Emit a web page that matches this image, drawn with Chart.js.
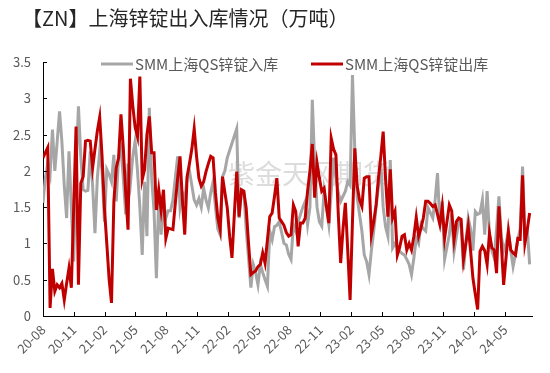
<!DOCTYPE html>
<html>
<head>
<meta charset="utf-8">
<script src="https://cdn.jsdelivr.net/npm/chart.js@4.4.1/dist/chart.umd.min.js"></script>
<style>
  html, body { margin: 0; padding: 0; background: #fff; }
  #wrap { width: 550px; height: 373px; }
</style>
</head>
<body>
<div id="wrap"><canvas id="chart" width="550" height="373"></canvas></div>
<script>
// chart texts
const titleText = "【ZN】上海锌锭出入库情况（万吨）";
const seriesNames = ["SMM上海QS锌锭入库", "SMM上海QS锌锭出库"];
const watermarkText = "紫金天风期货";

// quarter tick labels on the x axis (weekly data)
const tickLabels = ["20-08", "20-11", "21-02", "21-05", "21-08", "21-11", "22-02", "22-05",
  "22-08", "22-11", "23-02", "23-05", "23-08", "23-11", "24-02", "24-05"];
const weeksPerQuarter = 13.04;

// 入库 (grey), weekly, 万吨
const inflow = [
  1.56, 1.9, 2.1, 1.95, 2.57, 2.0, 2.4, 2.82, 2.4, 1.8,
  1.35, 2.27, 1.5, 0.75, 2.0, 2.89, 2.2, 1.74, 1.72, 1.73,
  2.27, 1.8, 1.14, 1.9, 2.27, 2.0, 1.3, 2.02, 1.95, 1.85,
  2.22, 1.58, 2.2, 2.3, 1.9, 1.4, 2.1, 1.83, 2.2, 2.41,
  2.0, 1.5, 0.84, 1.85, 1.1, 2.87, 1.9, 1.45, 0.52, 1.63,
  1.12, 1.6, 1.35, 1.45, 1.45, 1.6, 1.9, 2.2, 1.5, 1.7,
  1.6, 1.9, 2.0, 1.8, 1.6, 1.53, 1.62, 1.5, 1.76, 1.6,
  1.49, 1.7, 1.85, 1.5, 1.2, 1.12, 1.92, 2.0, 2.18, 2.28,
  2.38, 2.48, 2.58, 1.35, 1.74, 1.72, 1.2, 0.8, 0.39, 0.71,
  0.6, 0.43, 0.71, 0.6, 0.5, 0.41, 1.17, 1.05, 1.23, 1.25,
  1.3, 1.15, 1.0, 0.98, 0.85, 0.78, 1.26, 1.17, 1.3, 1.4,
  1.5, 1.58, 1.26, 1.5, 2.98, 2.1, 1.5, 1.3, 1.24, 1.72,
  1.5, 1.26, 1.7, 2.18, 1.9, 1.7, 1.58, 1.65, 1.72, 1.85,
  1.8, 3.32, 2.27, 1.63, 1.4, 1.17, 0.84, 0.75, 0.57, 0.9,
  1.17, 1.5, 1.79, 2.1, 1.5, 1.23, 1.1, 2.15, 0.94, 1.0,
  0.95, 0.89, 0.86, 0.84, 0.78, 0.71, 0.57, 0.8, 1.07, 1.0,
  1.26, 1.2, 1.17, 1.49, 1.42, 1.35, 1.6, 1.97, 1.26, 1.58,
  0.78, 0.95, 1.12, 1.4, 0.89, 1.1, 1.3, 1.26, 0.64, 1.0,
  1.35, 1.2, 0.9, 1.44, 1.4, 1.42, 1.6, 1.12, 1.72, 1.12,
  0.9, 0.8, 1.2, 1.65, 1.1, 0.9, 1.0, 1.17, 0.9, 0.68,
  0.85, 1.05, 1.2, 2.06, 1.1, 1.2, 0.71
];

// 出库 (red), weekly, 万吨
const outflow = [
  2.18, 2.25, 2.32, 0.11, 0.65, 0.34, 0.43, 0.39, 0.45, 0.22,
  0.45, 0.66, 0.39, 1.5, 2.61, 0.43, 1.83, 1.92, 2.41, 2.42,
  2.41, 2.04, 2.3, 2.55, 2.74, 2.2, 1.49, 1.0, 0.5, 0.18,
  1.58, 2.04, 2.18, 2.78, 2.31, 1.7, 1.19, 3.27, 2.9, 2.6,
  2.47, 3.3, 1.88, 2.02, 2.5, 2.75, 2.25, 2.25, 1.46, 1.74,
  1.46, 1.74, 1.07, 1.21, 1.2, 1.19, 1.55, 1.9, 2.2, 1.6,
  1.12, 1.92, 2.1, 2.3, 2.58, 2.2, 1.9, 1.79, 1.85, 1.99,
  2.1, 2.2, 2.18, 1.7, 1.35, 1.19, 1.92, 1.7, 1.49, 1.1,
  0.8, 1.4, 1.99, 1.37, 1.74, 1.72, 1.49, 1.0, 0.57, 0.6,
  0.62, 0.68, 0.71, 0.87, 0.73, 1.05, 1.37, 1.42, 1.65, 1.9,
  1.35, 1.3, 1.25, 1.15, 1.1, 1.12, 1.53, 1.44, 0.96, 1.28,
  1.28, 1.35, 1.72, 2.0, 2.37, 1.63, 2.11, 1.9, 1.72, 1.76,
  1.5, 1.28, 2.45, 2.3, 2.22, 1.4, 0.73, 1.2, 1.56, 0.9,
  0.22, 1.3, 2.31, 1.79, 1.6, 1.51, 1.9, 1.92, 1.92, 1.12,
  1.3, 1.53, 1.9, 2.2, 2.54, 1.9, 1.37, 2.02, 1.35, 1.44,
  0.84, 0.95, 1.1, 1.12, 0.91, 1.0, 0.91, 1.1, 1.36, 1.1,
  1.21, 1.35, 1.58, 1.58, 1.55, 1.51, 1.53, 1.4, 1.26, 1.51,
  1.07, 1.3, 1.53, 1.45, 1.05, 1.3, 1.35, 1.33, 0.78, 1.0,
  1.24, 0.9, 0.52, 0.3, 0.09, 0.89, 0.96, 0.9, 0.71, 1.14,
  0.94, 0.91, 0.59, 1.51, 1.0, 0.43, 0.8, 1.17, 0.91, 0.87,
  0.84, 1.07, 1.06, 1.94, 1.0, 1.19, 1.42
];

const GREY = "#A6A6A6";
const RED = "#C00000";
const FONT = "'Noto Sans CJK SC', 'Noto Sans', sans-serif";
Chart.defaults.font.family = FONT;

function toPoints(arr){
  return arr.map((v, i) => ({ x: i, y: v }));
}

// title, legend, watermark and the inside tick marks
const decor = {
  id: "decor",
  beforeDatasetsDraw(chart){
    const ctx = chart.ctx;
    ctx.save();
    ctx.font = "27px " + FONT;
    ctx.fillStyle = "#dcdcdc";
    ctx.textBaseline = "middle";
    ctx.fillText(watermarkText, 228, 174);
    ctx.restore();
  },
  afterDraw(chart){
    const ctx = chart.ctx;
    const area = chart.chartArea;
    const xs = chart.scales.x, ys = chart.scales.y;
    ctx.save();
    // tick marks pointing into the plot
    ctx.strokeStyle = "#000";
    ctx.lineWidth = 1;
    ctx.beginPath();
    xs.ticks.forEach(t => {
      const px = Math.round(xs.getPixelForValue(t.value)) + 0.5;
      ctx.moveTo(px, area.bottom);
      ctx.lineTo(px, area.bottom - 4);
    });
    ys.ticks.forEach(t => {
      const py = Math.round(ys.getPixelForValue(t.value)) + 0.5;
      ctx.moveTo(area.left, py);
      ctx.lineTo(area.left + 4, py);
    });
    ctx.stroke();

    // title
    ctx.fillStyle = "#262626";
    ctx.font = "20px " + FONT;
    ctx.textBaseline = "middle";
    ctx.fillText(titleText, 22, 18);

    // legend
    const items = [
      { name: seriesNames[0], color: GREY, x: 101 },
      { name: seriesNames[1], color: RED, x: 311 }
    ];
    ctx.font = "15px " + FONT;
    items.forEach(it => {
      ctx.strokeStyle = it.color;
      ctx.lineWidth = 3;
      ctx.beginPath();
      ctx.moveTo(it.x, 64);
      ctx.lineTo(it.x + 32, 64);
      ctx.stroke();
      ctx.fillStyle = "#595959";
      ctx.fillText(it.name, it.x + 34, 64);
    });
    ctx.restore();
  }
};

const chart = new Chart(document.getElementById("chart"), {
  type: "line",
  data: {
    datasets: [
      { label: seriesNames[1], data: toPoints(outflow), borderColor: RED, backgroundColor: RED, borderWidth: 3, order: 1 },
      { label: seriesNames[0], data: toPoints(inflow), borderColor: GREY, backgroundColor: GREY, borderWidth: 3, order: 2 }
    ]
  },
  options: {
    responsive: false,
    animation: false,
    layout: { padding: { left: 8, right: 18, top: 62, bottom: 0 } },
    elements: { point: { radius: 0 }, line: { tension: 0 } },
    plugins: {
      legend: { display: false },
      title: { display: false },
      tooltip: { enabled: false }
    },
    scales: {
      x: {
        type: "linear",
        min: 0,
        max: 207,
        afterBuildTicks: s => { s.ticks = tickLabels.map((t, i) => ({ value: i * weeksPerQuarter })); },
        afterFit: s => { s.height = 57; },
        grid: { display: false, drawTicks: false },
        border: { display: true, color: "#000", width: 1 },
        ticks: {
          autoSkip: false,
          minRotation: 45,
          maxRotation: 45,
          padding: 6,
          color: "#595959",
          font: { size: 13 },
          callback: (v, i) => tickLabels[i]
        }
      },
      y: {
        min: 0,
        max: 3.5,
        afterFit: s => { s.width = 35; },
        grid: { display: false, drawTicks: false },
        border: { display: true, color: "#000", width: 1 },
        ticks: {
          stepSize: 0.5,
          padding: 12,
          color: "#595959",
          font: { size: 13 },
          callback: v => String(Math.round(v * 10) / 10)
        }
      }
    }
  },
  plugins: [decor]
});
</script>
</body>
</html>
